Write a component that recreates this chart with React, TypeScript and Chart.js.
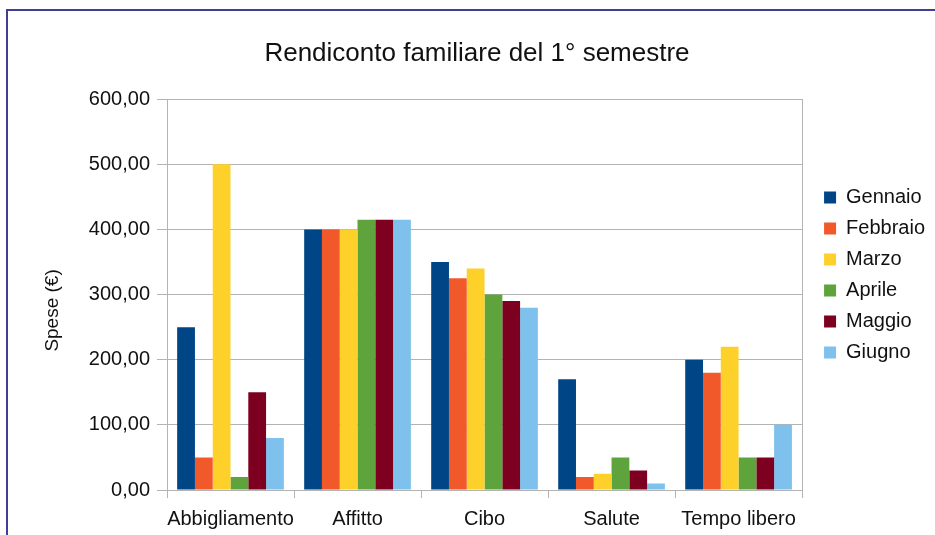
import React, { useEffect, useRef } from "react";
import { Chart, registerables } from "chart.js";

Chart.register(...registerables);

const categories = ["Abbigliamento", "Affitto", "Cibo", "Salute", "Tempo libero"];
const seriesNames = ["Gennaio", "Febbraio", "Marzo", "Aprile", "Maggio", "Giugno"];
const gennaio = [250, 400, 350, 170, 200];
const febbraio = [50, 400, 325, 20, 180];
const marzo = [500, 400, 340, 25, 220];
const aprile = [20, 415, 300, 50, 50];
const maggio = [150, 415, 290, 30, 50];
const giugno = [80, 415, 280, 10, 100];
const seriesValues = [gennaio, febbraio, marzo, aprile, maggio, giugno];
const seriesColors = ["#004586", "#f1592a", "#fdd12a", "#5ea33c", "#7e0021", "#7dc1ec"];

const titleText = "Rendiconto familiare del 1° semestre";
const yAxisTitle = "Spese (€)";
const yMin = 0;
const yMax = 600;
const yStep = 100;

const FONT = "'Liberation Sans', Arial, sans-serif";
const GRID = "#b3b3b3";

export default function App() {
  const ref = useRef<HTMLCanvasElement | null>(null);

  useEffect(() => {
    if (!ref.current) return;
    const chart = new Chart(ref.current, {
      type: "bar",
      data: {
        labels: categories,
        datasets: seriesNames.map((name, i) => ({
          label: name,
          data: seriesValues[i],
          backgroundColor: seriesColors[i],
          borderWidth: 0,
          categoryPercentage: 0.84,
          barPercentage: 1,
        })),
      },
      options: {
        animation: false,
        responsive: false,
        devicePixelRatio: 1,
        layout: { padding: { top: 15, left: 19, right: 0, bottom: 0 } },
        plugins: {
          title: {
            display: true,
            text: titleText,
            color: "#111",
            font: { family: FONT, size: 26, weight: "normal" },
            padding: { top: 23, bottom: 30 },
          },
          legend: {
            display: true,
            position: "right",
            labels: {
              boxWidth: 12,
              boxHeight: 12,
              padding: 11,
              color: "#111",
              font: { family: FONT, size: 20 },
            },
          },
          tooltip: { enabled: false },
        },
        scales: {
          x: {
            grid: {
              display: true,
              offset: true,
              drawOnChartArea: false,
              drawTicks: true,
              tickLength: 8,
              color: GRID,
            },
            border: { display: true, color: GRID, width: 1 },
            ticks: {
              color: "#111",
              font: { family: FONT, size: 20 },
              padding: 9,
              maxRotation: 0,
              autoSkip: false,
            },
            afterFit: (scale: any) => {
              scale.height = 45;
            },
          },
          y: {
            min: yMin,
            max: yMax,
            grid: {
              color: GRID,
              lineWidth: 1,
              drawTicks: true,
              tickLength: 10,
            },
            border: { display: true, color: GRID, width: 1 },
            ticks: {
              stepSize: yStep,
              color: "#111",
              font: { family: FONT, size: 20 },
              padding: 7,
              callback: (v: any) => Number(v).toFixed(2).replace(".", ","),
            },
            title: {
              display: true,
              text: yAxisTitle + "      ",
              color: "#111",
              font: { family: FONT, size: 19 },
              padding: { top: 22, bottom: 0 },
            },
            afterFit: (scale: any) => {
              scale.width = 148;
            },
          },
          yRight: {
            type: "linear",
            position: "right",
            display: true,
            grid: { display: true, drawOnChartArea: false, drawTicks: false, color: GRID },
            border: { display: true, color: GRID, width: 1 },
            ticks: { display: false },
            afterFit: (scale: any) => {
              scale.width = 11;
            },
          },
        },
      },
    });
    return () => chart.destroy();
  }, []);

  return (
    <div style={{ position: "absolute", left: 0, top: 0, width: 935, height: 535, background: "#fff" }}>
      <div
        style={{
          position: "absolute",
          left: 6,
          top: 9,
          width: 929,
          height: 526,
          borderTop: "2px solid #3f3f96",
          borderLeft: "2px solid #3f3f96",
          boxSizing: "border-box",
        }}
      />
      <canvas ref={ref} width={935} height={535} style={{ position: "absolute", left: 0, top: 0 }} />
    </div>
  );
}
